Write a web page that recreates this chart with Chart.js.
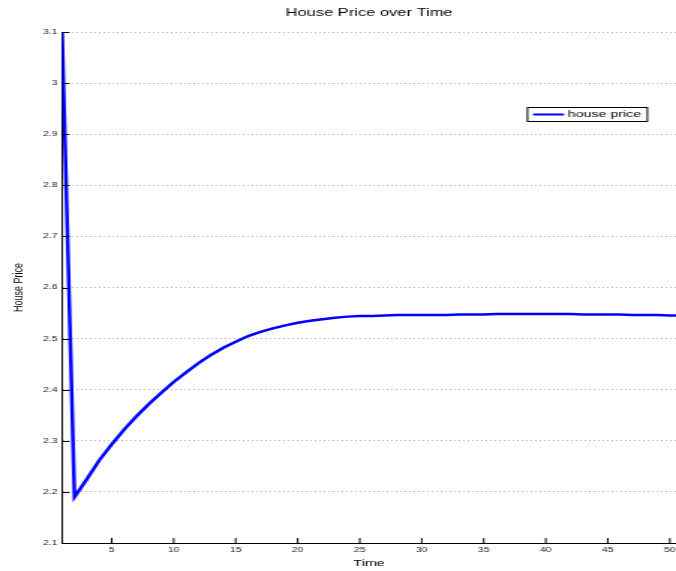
<!DOCTYPE html>
<html>
<head>
<meta charset="utf-8">
<script src="https://cdn.jsdelivr.net/npm/chart.js@4/dist/chart.umd.min.js"></script>
<style>
  html, body { margin: 0; padding: 0; background: #fff; overflow: hidden; }
  /* the figure is laid out narrow and widened horizontally */
  #wrap { width: 451px; height: 571px; transform: scaleX(1.49889); transform-origin: 0 0; }
  canvas { display: block; }
</style>
</head>
<body>
<div id="wrap"><canvas id="chart" width="451" height="571"></canvas></div>
<script>
// Simulated house price path
const time = [1, 2, 3, 4, 5, 6, 7, 8, 9, 10,
              11, 12, 13, 14, 15, 16, 17, 18, 19, 20,
              21, 22, 23, 24, 25, 26, 27, 28, 29, 30,
              31, 32, 33, 34, 35, 36, 37, 38, 39, 40,
              41, 42, 43, 44, 45, 46, 47, 48, 49, 50, 51];
const housePrice = [3.1, 2.19, 2.225, 2.262, 2.293, 2.322, 2.348, 2.372, 2.394, 2.415,
                    2.434, 2.452, 2.468, 2.482, 2.494, 2.505, 2.513, 2.520, 2.526, 2.531,
                    2.535, 2.538, 2.541, 2.543, 2.544, 2.544, 2.545, 2.546, 2.546, 2.546,
                    2.546, 2.546, 2.547, 2.547, 2.547, 2.548, 2.548, 2.548, 2.548, 2.548,
                    2.548, 2.548, 2.547, 2.547, 2.547, 2.547, 2.546, 2.546, 2.546, 2.545, 2.545];
const xTicks = [5, 10, 15, 20, 25, 30, 35, 40, 45, 50];
const yTicks = [2.1, 2.2, 2.3, 2.4, 2.5, 2.6, 2.7, 2.8, 2.9, 3.0, 3.1];

const FONT = "'Liberation Sans', Arial, Helvetica, sans-serif";

// title, axis labels, inward tick marks and the boxed legend
const decorations = {
  id: 'decorations',
  afterDraw(chart) {
    const { ctx, chartArea: a, scales } = chart;
    ctx.save();

    // inward tick marks
    ctx.strokeStyle = '#000';
    ctx.lineWidth = 1;
    ctx.beginPath();
    scales.y.ticks.forEach((t, i) => {
      const py = Math.round(scales.y.getPixelForTick(i)) + 0.5;
      ctx.moveTo(a.left, py);
      ctx.lineTo(a.left + 5, py);
    });
    scales.x.ticks.forEach((t, i) => {
      const px = scales.x.getPixelForTick(i);
      ctx.moveTo(px, a.bottom);
      ctx.lineTo(px, a.bottom - 5);
    });
    ctx.stroke();

    ctx.fillStyle = '#000';
    ctx.textBaseline = 'middle';
    ctx.textAlign = 'center';

    // title
    ctx.font = '11px ' + FONT;
    ctx.fillText('House Price over Time', (a.left + a.right) / 2, 12.5);

    // x axis title
    ctx.font = '9.5px ' + FONT;
    ctx.fillText('Time', (a.left + a.right) / 2, 563.5);

    // y axis title
    ctx.save();
    ctx.translate(12.2, (a.top + a.bottom) / 2);
    ctx.rotate(-Math.PI / 2);
    ctx.font = '9px ' + FONT;
    ctx.fillText('House Price', 0, 0);
    ctx.restore();

    // legend
    const ds = chart.data.datasets[0];
    const bx = 351.4, by = 107, bw = 80, bh = 14;
    ctx.fillStyle = '#fff';
    ctx.fillRect(bx, by, bw, bh);
    ctx.strokeStyle = '#000';
    ctx.lineWidth = 1;
    ctx.strokeRect(bx + 0.5, by + 0.5, bw, bh);
    ctx.strokeStyle = ds.borderColor;
    ctx.lineWidth = 2;
    ctx.beginPath();
    ctx.moveTo(355.6, by + 7.5);
    ctx.lineTo(376.3, by + 7.5);
    ctx.stroke();
    ctx.fillStyle = '#000';
    ctx.textAlign = 'left';
    ctx.font = '9.5px ' + FONT;
    ctx.fillText(ds.label, 378.7, by + 7.5);

    ctx.restore();
  }
};

new Chart(document.getElementById('chart'), {
  type: 'line',
  data: {
    datasets: [{
      label: 'house price',
      data: time.map((t, i) => ({ x: t, y: housePrice[i] })),
      borderColor: '#0000ff',
      borderWidth: 2.5,
      pointRadius: 0,
      tension: 0,
      fill: false
    }]
  },
  options: {
    responsive: false,
    devicePixelRatio: 1,
    animation: false,
    events: [],
    layout: { padding: { top: 32, right: 0, bottom: 0, left: 0 } },
    plugins: {
      legend: { display: false },
      title: { display: false },
      tooltip: { enabled: false }
    },
    scales: {
      x: {
        type: 'linear',
        min: 1,
        max: 50.5,
        afterBuildTicks(s) { s.ticks = xTicks.map(v => ({ value: v })); },
        afterFit(s) { s.height = 28; s.paddingLeft = 0; s.paddingRight = 0; },
        grid: { display: false, drawTicks: false },
        border: { display: true, color: '#000', width: 1 },
        ticks: {
          font: { family: FONT, size: 7 },
          color: '#222',
          padding: 3,
          maxRotation: 0,
          autoSkip: false,
          callback: v => String(v)
        }
      },
      y: {
        type: 'linear',
        min: 2.1,
        max: 3.1,
        afterBuildTicks(s) { s.ticks = yTicks.map(v => ({ value: v })); },
        afterFit(s) { s.width = 41.4; s.paddingTop = 0; s.paddingBottom = 0; },
        grid: { display: true, drawTicks: false, color: '#b4b4b4', lineWidth: 1 },
        border: { display: true, color: '#000', width: 1, dash: [1, 2] },
        ticks: {
          font: { family: FONT, size: 7 },
          color: '#222',
          padding: 3,
          autoSkip: false,
          callback: v => String(+Number(v).toFixed(1))
        }
      }
    }
  },
  plugins: [decorations]
});
</script>
</body>
</html>
